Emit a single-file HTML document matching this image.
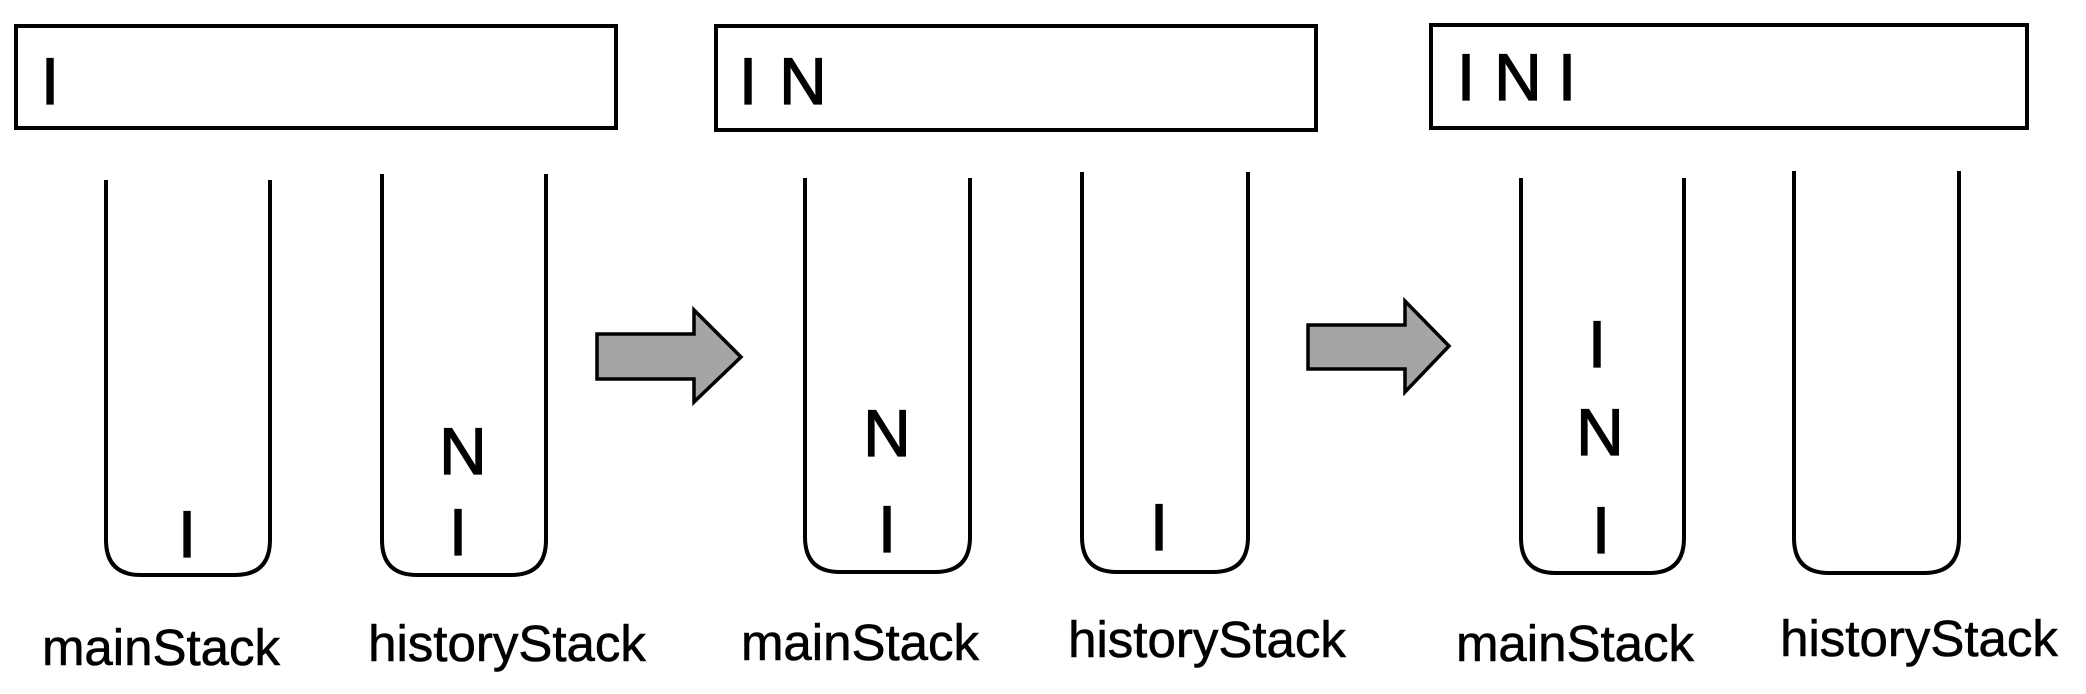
<!DOCTYPE html>
<html><head><style>html,body{margin:0;padding:0;background:#fff}svg{display:block}</style></head>
<body>
<svg width="2086" height="694" xmlns="http://www.w3.org/2000/svg" font-family="Liberation Sans, sans-serif">
<g fill="none" stroke="#000" stroke-width="4">
<rect x="16" y="26" width="600" height="102"/>
<rect x="716" y="26" width="600" height="104"/>
<rect x="1431" y="25" width="596" height="103"/>
<path d="M106 180 V540 Q106 575 141 575 H235 Q270 575 270 540 V180"/>
<path d="M382 174 V540 Q382 575 417 575 H511 Q546 575 546 540 V174"/>
<path d="M805 178 V537 Q805 572 840 572 H935 Q970 572 970 537 V178"/>
<path d="M1082 172 V537 Q1082 572 1117 572 H1213 Q1248 572 1248 537 V172"/>
<path d="M1521 178 V538 Q1521 573 1556 573 H1649 Q1684 573 1684 538 V178"/>
<path d="M1794 171 V538 Q1794 573 1829 573 H1924 Q1959 573 1959 538 V171"/>
</g>
<g fill="#a5a5a5" stroke="#000" stroke-width="3.5">
<polygon points="597,334 694,334 694,310 741,357 694,402 694,379 597,379"/>
<polygon points="1308,325 1405,325 1405,301 1449,346 1405,392 1405,369 1308,369"/>
</g>
<g font-size="66" fill="#000" stroke="#000" stroke-width="1.2" text-anchor="middle">
<text x="50" y="104">I</text>
<text x="187" y="557">I</text>
<text x="463" y="474">N</text>
<text x="458" y="555">I</text>
<text x="748" y="104">I</text>
<text x="803" y="104">N</text>
<text x="887" y="456">N</text>
<text x="887" y="552">I</text>
<text x="1159" y="550">I</text>
<text x="1466" y="100">I</text>
<text x="1518" y="100">N</text>
<text x="1567" y="100">I</text>
<text x="1597" y="367">I</text>
<text x="1600" y="455">N</text>
<text x="1601" y="553">I</text>
</g>
<g font-size="51" fill="#000" stroke="#000" stroke-width="0.6" text-anchor="middle">
<text x="161" y="665">mainStack</text>
<text x="507" y="661">historyStack</text>
<text x="860" y="660">mainStack</text>
<text x="1207" y="657">historyStack</text>
<text x="1575" y="661">mainStack</text>
<text x="1919" y="656">historyStack</text>
</g>
</svg>
</body></html>
